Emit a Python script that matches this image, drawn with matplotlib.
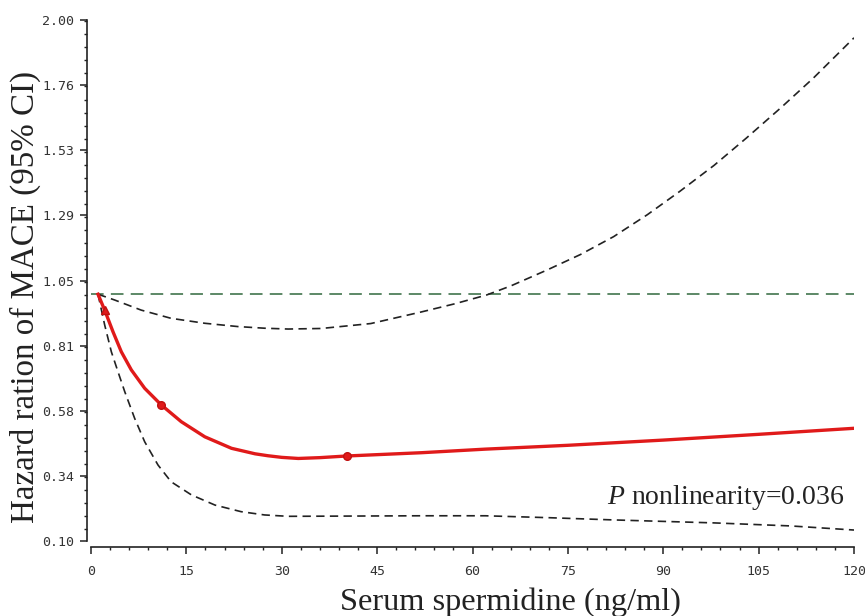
import matplotlib
matplotlib.use("Agg")
import matplotlib.pyplot as plt
from matplotlib.ticker import FixedLocator, MultipleLocator

plt.rcParams["mathtext.fontset"] = "custom"
plt.rcParams["mathtext.rm"] = "Liberation Serif"
plt.rcParams["mathtext.it"] = "Liberation Serif:italic"

# ---- data ----
hr_x = [1.1, 2.15, 3.46, 4.77, 6.34, 8.44, 11.06, 14.2, 17.9, 22.1, 25.8,
        27.8, 30.0, 32.6, 36.0, 40.2, 52.0, 62.0, 75.0, 90.0, 105.0, 120.0]
hr_y = [1.0, 0.942, 0.863, 0.79, 0.724, 0.657, 0.596, 0.535, 0.48, 0.438,
        0.418, 0.411, 0.405, 0.401, 0.404, 0.41, 0.422, 0.435, 0.449, 0.468,
        0.489, 0.511]

low_x = [1.1, 2.15, 3.2, 4.25, 5.3, 6.87, 8.44, 10.54, 12.6, 15.8, 19.5, 23.6,
         27.3, 31.0, 41.5, 52.0, 62.0, 72.0, 82.0, 98.0, 110.0, 120.0]
low_y = [1.0, 0.888, 0.79, 0.717, 0.645, 0.547, 0.462, 0.377, 0.316, 0.268,
         0.231, 0.207, 0.195, 0.19, 0.191, 0.192, 0.192, 0.185, 0.177, 0.166,
         0.155, 0.14]

up_x = [1.1, 3.7, 7.9, 12.6, 17.9, 23.1, 27.3, 31.0, 36.2, 44.0, 51.9, 57.2,
        62.2, 66.0, 71.7, 77.0, 82.2, 87.5, 92.6, 98.0, 103.1, 108.5, 113.6,
        120.0]
up_y = [1.0, 0.979, 0.942, 0.912, 0.894, 0.882, 0.876, 0.873, 0.875, 0.893,
        0.935, 0.965, 0.997, 1.03, 1.088, 1.145, 1.21, 1.29, 1.375, 1.47, 1.57,
        1.68, 1.788, 1.935]

mark_x = [11.06, 40.2]
mark_y = [0.596, 0.41]
tri_x = [2.15]
tri_y = [0.942]

ref_y = 1.0
p_text = "$P$ nonlinearity=0.036"

y_ticks = [0.10, 0.3375, 0.575, 0.8125, 1.05, 1.2875, 1.525, 1.7625, 2.00]
y_labels = ["0.10", "0.34", "0.58", "0.81", "1.05", "1.29", "1.53", "1.76", "2.00"]
x_ticks = [0, 15, 30, 45, 60, 75, 90, 105, 120]
x_labels = ["0", "15", "30", "45", "60", "75", "90", "105", "120"]

# ---- figure ----
fig = plt.figure(figsize=(8.65, 6.16), dpi=100)
fig.patch.set_facecolor("white")
ax = fig.add_axes([91/865, 75/616, 763/865, 521/616])

ax.axhline(ref_y, color="#4f7f5a", lw=1.3, dashes=(7, 4), zorder=1)
ax.plot(up_x, up_y, color="#222222", lw=1.2, dashes=(5, 3.2), zorder=2)
ax.plot(low_x, low_y, color="#222222", lw=1.2, dashes=(5, 3.2), zorder=2)
ax.plot(hr_x, hr_y, color="#e01a1a", lw=2.4, zorder=3, solid_joinstyle="round")
ax.plot(mark_x, mark_y, "o", color="#e01a1a", ms=5.5, mec="#c01010", zorder=4)
ax.plot(tri_x, tri_y, "^", color="#e01a1a", ms=6, mec="#c01010", zorder=4)

ax.set_xlim(0, 120)
ax.set_ylim(0.10, 2.00)

for s in ["top", "right"]:
    ax.spines[s].set_visible(False)
ax.spines["left"].set_position(("outward", 3))
ax.spines["bottom"].set_position(("outward", 4))
for s in ["left", "bottom"]:
    ax.spines[s].set_color("#222222")
    ax.spines[s].set_linewidth(1.2)

ax.yaxis.set_major_locator(FixedLocator(y_ticks))
ax.set_yticklabels(y_labels)
ax.yaxis.set_minor_locator(MultipleLocator(0.0475))
ax.xaxis.set_major_locator(FixedLocator(x_ticks))
ax.set_xticklabels(x_labels)
ax.xaxis.set_minor_locator(MultipleLocator(3))

ax.tick_params(axis="both", which="major", direction="out", length=5, width=1.1,
               color="#222222", labelcolor="#333333", labelsize=9.5)
ax.tick_params(axis="both", which="minor", direction="out", length=2.5, width=1.0,
               color="#222222")
ax.tick_params(axis="x", which="major", pad=8)
ax.tick_params(axis="y", which="major", pad=4)
for lab in ax.get_xticklabels() + ax.get_yticklabels():
    lab.set_family("DejaVu Sans Mono")

fig.text(510/865, 1 - 602/616, "Serum spermidine (ng/ml)", ha="center", va="center",
         family="Liberation Serif", fontsize=23.3, color="#222222")
fig.text(25/865, 1 - 297/616, "Hazard ration of MACE (95% CI)", ha="center",
         va="center", rotation=90, family="Liberation Serif", fontsize=23.8,
         color="#222222")

fig.text(607/865, 1 - 498/616, p_text, ha="left", va="center",
         family="Liberation Serif", fontsize=20, color="#222222")

fig.savefig("out.png", dpi=100, facecolor="white")
